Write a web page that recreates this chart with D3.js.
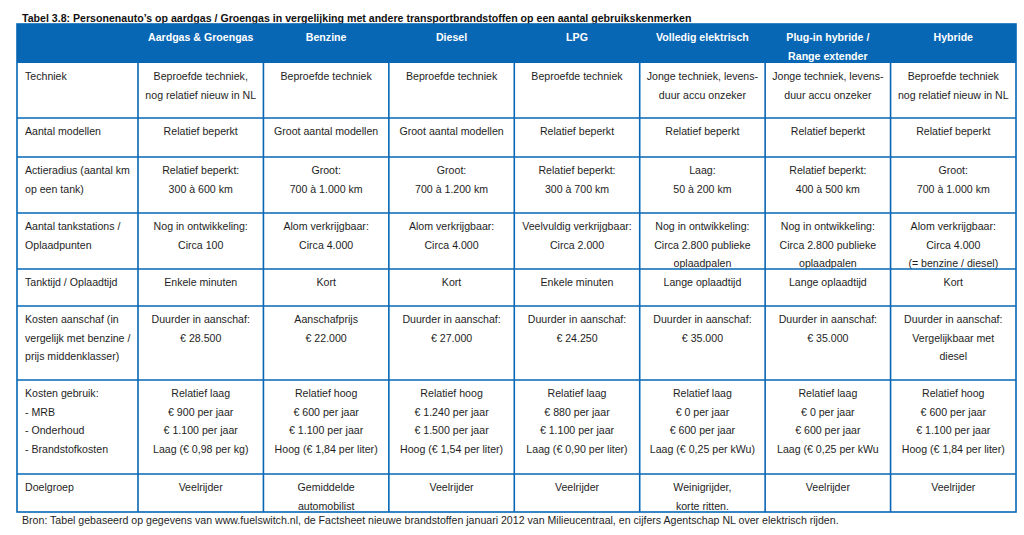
<!doctype html>
<html>
<head>
    <title>Tabel 3.8</title>
    <script src="https://d3js.org/d3.v7.min.js"></script>
    <style>
        body { margin: 0; background: #fff; }
        svg { display: block; font-family: "Liberation Sans", Arial, sans-serif; }
    </style>
</head>
<body>
    <div id="tabel"></div>
    <script>

        // Data (tekst zoals in de tabel)

        const title = "Tabel 3.8: Personenauto\u2019s op aardgas / Groengas in vergelijking met andere transportbrandstoffen op een aantal gebruikskenmerken";
        const source = "Bron: Tabel gebaseerd op gegevens van www.fuelswitch.nl, de Factsheet nieuwe brandstoffen januari 2012 van Milieucentraal, en cijfers Agentschap NL over elektrisch rijden.";

        const fuels = ["Aardgas & Groengas", "Benzine", "Diesel", "LPG", "Volledig elektrisch", "Plug-in hybride /\nRange extender", "Hybride"];

        const kenmerken = [
            "Techniek",
            "Aantal modellen",
            "Actieradius (aantal km\nop een tank)",
            "Aantal tankstations /\nOplaadpunten",
            "Tanktijd / Oplaadtijd",
            "Kosten aanschaf (in\nvergelijk met benzine /\nprijs middenklasser)",
            "Kosten gebruik:\n- MRB\n- Onderhoud\n- Brandstofkosten",
            "Doelgroep"
        ];

        const techniek = ["Beproefde techniek,\nnog relatief nieuw in NL", "Beproefde techniek", "Beproefde techniek", "Beproefde techniek",
            "Jonge techniek, levens-\nduur accu onzeker", "Jonge techniek, levens-\nduur accu onzeker", "Beproefde techniek\nnog relatief nieuw in NL"];
        const modellen = ["Relatief beperkt", "Groot aantal modellen", "Groot aantal modellen", "Relatief beperkt",
            "Relatief beperkt", "Relatief beperkt", "Relatief beperkt"];
        const actieradius = ["Relatief beperkt:\n300 \u00e0 600 km", "Groot:\n700 \u00e0 1.000 km", "Groot:\n700 \u00e0 1.200 km", "Relatief beperkt:\n300 \u00e0 700 km",
            "Laag:\n50 \u00e0 200 km", "Relatief beperkt:\n400 \u00e0 500 km", "Groot:\n700 \u00e0 1.000 km"];
        const tankstations = ["Nog in ontwikkeling:\nCirca 100", "Alom verkrijgbaar:\nCirca 4.000", "Alom verkrijgbaar:\nCirca 4.000", "Veelvuldig verkrijgbaar:\nCirca 2.000",
            "Nog in ontwikkeling:\nCirca 2.800 publieke\noplaadpalen", "Nog in ontwikkeling:\nCirca 2.800 publieke\noplaadpalen", "Alom verkrijgbaar:\nCirca 4.000\n(= benzine / diesel)"];
        const tanktijd = ["Enkele minuten", "Kort", "Kort", "Enkele minuten", "Lange oplaadtijd", "Lange oplaadtijd", "Kort"];
        const aanschaf = ["Duurder in aanschaf:\n\u20ac 28.500", "Aanschafprijs\n\u20ac 22.000", "Duurder in aanschaf:\n\u20ac 27.000", "Duurder in aanschaf:\n\u20ac 24.250",
            "Duurder in aanschaf:\n\u20ac 35.000", "Duurder in aanschaf:\n\u20ac 35.000", "Duurder in aanschaf:\nVergelijkbaar met\ndiesel"];
        const gebruik = [
            "Relatief laag\n\u20ac 900 per jaar\n\u20ac 1.100 per jaar\nLaag (\u20ac 0,98 per kg)",
            "Relatief hoog\n\u20ac 600 per jaar\n\u20ac 1.100 per jaar\nHoog (\u20ac 1,84 per liter)",
            "Relatief hoog\n\u20ac 1.240 per jaar\n\u20ac 1.500 per jaar\nHoog (\u20ac 1,54 per liter)",
            "Relatief laag\n\u20ac 880 per jaar\n\u20ac 1.100 per jaar\nLaag (\u20ac 0,90 per liter)",
            "Relatief laag\n\u20ac 0 per jaar\n\u20ac 600 per jaar\nLaag (\u20ac 0,25 per kWu)",
            "Relatief laag\n\u20ac 0 per jaar\n\u20ac 600 per jaar\nLaag (\u20ac 0,25 per kWu",
            "Relatief hoog\n\u20ac 600 per jaar\n\u20ac 1.100 per jaar\nHoog (\u20ac 1,84 per liter)"
        ];
        const doelgroep = ["Veelrijder", "Gemiddelde\nautomobilist", "Veelrijder", "Veelrijder", "Weinigrijder,\nkorte ritten.", "Veelrijder", "Veelrijder"];

        const cells = [techniek, modellen, actieradius, tankstations, tanktijd, aanschaf, gebruik, doelgroep];

        // Opmaak

        const canvasWidth = 1024, canvasHeight = 535;
        const blue = "#0767b5";
        const textColor = "#1e1e1e";
        const fontSize = 10.6;
        const lineStep = 18.7;
        const tableLeft = 17, firstColRight = 138, tableRight = 1016;
        const tableTop = 24, headerHeight = 39;
        const rowHeights = [55, 39, 56, 56, 37, 74, 94, 38];

        var rowTops = [];
        var acc = tableTop + headerHeight;
        rowHeights.forEach(function(h){ rowTops.push(acc); acc += h; });
        const tableBottom = acc;

        var x = d3.scaleBand().domain(fuels).range([firstColRight, tableRight]);
        var y = d3.scaleOrdinal().domain(kenmerken).range(rowTops);

        var svg = d3.select("#tabel")
            .append("svg")
            .attr("width", canvasWidth)
            .attr("height", canvasHeight);

        function addLines(sel, txt, xPos){
            txt.split("\n").forEach(function(line, i){
                sel.append("tspan").attr("x", xPos).attr("dy", i == 0 ? 0 : lineStep).text(line);
            });
        }

        // titel
        svg.append("text")
            .attr("x", 22).attr("y", 22)
            .attr("font-size", fontSize).attr("font-weight", "bold")
            .attr("fill", "#111")
            .text(title);

        // kop
        svg.append("rect")
            .attr("x", tableLeft).attr("y", tableTop)
            .attr("width", tableRight - tableLeft).attr("height", headerHeight)
            .attr("fill", blue);

        svg.selectAll("text.head")
            .data(fuels)
            .enter()
            .append("text")
                .attr("class", "head")
                .attr("y", tableTop + 17)
                .attr("text-anchor", "middle")
                .attr("font-size", fontSize).attr("font-weight", "bold")
                .attr("fill", "#fff")
                .each(function(d){ addLines(d3.select(this), d, x(d) + x.bandwidth()/2); });

        // rijen
        var rows = svg.selectAll("g.row")
            .data(kenmerken)
            .enter()
            .append("g")
                .attr("class", "row");

        rows.append("text")
            .attr("y", function(d){ return y(d) + 17; })
            .attr("font-size", fontSize)
            .attr("fill", textColor)
            .each(function(d){ addLines(d3.select(this), d, tableLeft + 8); });

        rows.each(function(k, r){
            d3.select(this).selectAll("text.cell")
                .data(cells[r])
                .enter()
                .append("text")
                    .attr("class", "cell")
                    .attr("y", y(k) + 17)
                    .attr("text-anchor", "middle")
                    .attr("font-size", fontSize)
                    .attr("fill", textColor)
                    .each(function(d, i){ addLines(d3.select(this), d, x(fuels[i]) + x.bandwidth()/2); });
        });

        // lijnen
        var grid = svg.append("g")
            .attr("stroke", blue)
            .attr("stroke-width", 1.6)
            .attr("fill", "none");

        grid.selectAll("line.h")
            .data(kenmerken.slice(1))
            .enter()
            .append("line")
                .attr("x1", tableLeft).attr("x2", tableRight)
                .attr("y1", function(d){ return y(d); })
                .attr("y2", function(d){ return y(d); });

        grid.selectAll("line.v")
            .data(fuels)
            .enter()
            .append("line")
                .attr("x1", function(d){ return x(d); })
                .attr("x2", function(d){ return x(d); })
                .attr("y1", tableTop + headerHeight).attr("y2", tableBottom);

        grid.append("rect")
            .attr("x", tableLeft).attr("y", tableTop)
            .attr("width", tableRight - tableLeft).attr("height", tableBottom - tableTop);

        // bron
        svg.append("text")
            .attr("x", 22).attr("y", tableBottom + 12)
            .attr("font-size", fontSize)
            .attr("fill", textColor)
            .text(source);

    </script>
</body>
</html>
